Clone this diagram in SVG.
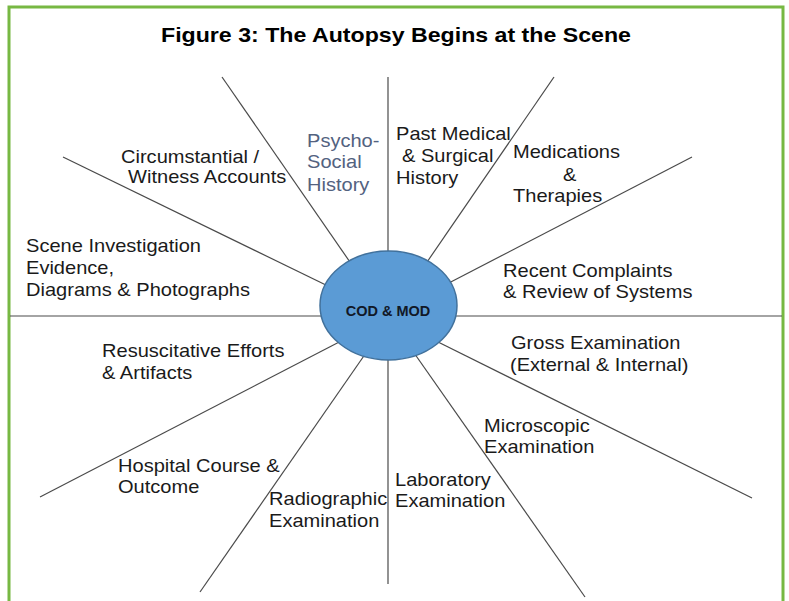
<svg xmlns="http://www.w3.org/2000/svg" width="789" height="601" viewBox="0 0 789 601">
<style>
.frame{fill:#ffffff;stroke:#77B843;stroke-width:3}
.title{font-family:"Liberation Sans",Arial,sans-serif;font-weight:bold;font-size:21px;fill:#000}
.spoke{stroke:#4a4a4a;stroke-width:1.2;fill:none}
.hub{fill:#5B9BD5;stroke:#41719C;stroke-width:1.5}
.hubtxt{font-family:"Liberation Sans",Arial,sans-serif;font-weight:bold;font-size:14.5px;fill:#111827;text-anchor:middle}
.lbl{font-family:"Liberation Sans",Arial,sans-serif;font-size:18px;fill:#1a1a1a}
.lbl2{font-family:"Liberation Sans",Arial,sans-serif;font-size:18px;fill:#53627F}
</style>
<rect x="0" y="0" width="789" height="601" fill="#ffffff"/>
<rect class="frame" x="9" y="7" width="774" height="620"/>
<text class="title" x="161" y="42" textLength="470" lengthAdjust="spacingAndGlyphs">Figure 3: The Autopsy Begins at the Scene</text>
<g id="connectors">
<line class="spoke" x1="222" y1="77" x2="352" y2="265"/>
<line class="spoke" x1="388" y1="77" x2="388" y2="258"/>
<line class="spoke" x1="554" y1="77" x2="425" y2="265"/>
<line class="spoke" x1="692" y1="157" x2="445" y2="285"/>
<line class="spoke" x1="63" y1="157" x2="330" y2="287"/>
<line class="spoke" x1="10" y1="316" x2="782" y2="316"/>
<line class="spoke" x1="345" y1="339" x2="40" y2="497"/>
<line class="spoke" x1="368" y1="350" x2="200" y2="592"/>
<line class="spoke" x1="388" y1="352" x2="388" y2="584"/>
<line class="spoke" x1="412" y1="350" x2="585" y2="597"/>
<line class="spoke" x1="432" y1="339" x2="752" y2="498"/>
</g>
<g id="hub">
<ellipse class="hub" cx="388.5" cy="305.5" rx="68.5" ry="54.5"/>
<text class="hubtxt" x="388" y="316">COD &amp; MOD</text>
</g>
<g id="circumstantial">
<text class="lbl" transform="translate(121,162.7) scale(1.115,1)"><tspan x="0" y="0">Circumstantial /</tspan><tspan x="6.3" y="20.6">Witness Accounts</tspan></text>
</g>
<g id="psychosocial">
<text class="lbl2" transform="translate(307,146.7) scale(1.115,1)"><tspan x="0" y="0">Psycho-</tspan><tspan x="0" y="21.6">Social</tspan><tspan x="0" y="44">History</tspan></text>
</g>
<g id="scene">
<text class="lbl" transform="translate(26,252) scale(1.115,1)"><tspan x="0" y="0">Scene Investigation</tspan><tspan x="0" y="22">Evidence,</tspan><tspan x="0" y="44">Diagrams &amp; Photographs</tspan></text>
</g>
<g id="pastmedical">
<text class="lbl" transform="translate(396,140) scale(1.115,1)"><tspan x="0" y="0">Past Medical</tspan><tspan x="5.4" y="21.7">&amp; Surgical</tspan><tspan x="0" y="44">History</tspan></text>
</g>
<g id="medications">
<text class="lbl" transform="translate(513,158.3) scale(1.115,1)"><tspan x="0" y="0">Medications</tspan><tspan x="44.8" y="22.4">&amp;</tspan><tspan x="0" y="43.4">Therapies</tspan></text>
</g>
<g id="recent">
<text class="lbl" transform="translate(503,276.7) scale(1.115,1)"><tspan x="0" y="0">Recent Complaints</tspan><tspan x="0" y="21.3">&amp; Review of Systems</tspan></text>
</g>
<g id="resuscitative">
<text class="lbl" transform="translate(102,357.3) scale(1.115,1)"><tspan x="0" y="0">Resuscitative Efforts</tspan><tspan x="0" y="22">&amp; Artifacts</tspan></text>
</g>
<g id="hospital">
<text class="lbl" transform="translate(118,471.7) scale(1.115,1)"><tspan x="0" y="0">Hospital Course &amp;</tspan><tspan x="0" y="21.6">Outcome</tspan></text>
</g>
<g id="radiographic">
<text class="lbl" transform="translate(269,505) scale(1.115,1)"><tspan x="0" y="0">Radiographic</tspan><tspan x="0" y="21.7">Examination</tspan></text>
</g>
<g id="gross">
<text class="lbl" transform="translate(511,349) scale(1.115,1)"><tspan x="0" y="0">Gross Examination</tspan><tspan x="-0.9" y="21.7">(External &amp; Internal)</tspan></text>
</g>
<g id="microscopic">
<text class="lbl" transform="translate(484,431.7) scale(1.115,1)"><tspan x="0" y="0">Microscopic</tspan><tspan x="0" y="21.6">Examination</tspan></text>
</g>
<g id="laboratory">
<text class="lbl" transform="translate(395,486) scale(1.115,1)"><tspan x="0" y="0">Laboratory</tspan><tspan x="0" y="21.3">Examination</tspan></text>
</g>
</svg>
